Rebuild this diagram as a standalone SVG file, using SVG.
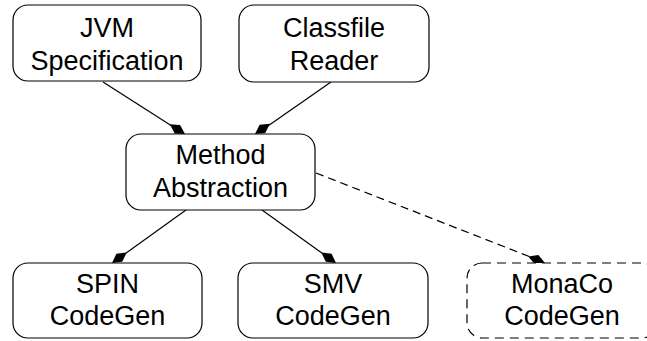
<svg xmlns="http://www.w3.org/2000/svg" width="647" height="341" viewBox="0 0 647 341">
<style>
.box{fill:#fff;stroke:#000;stroke-width:1.2}
.dbox{fill:#fff;stroke:#000;stroke-width:1.2;stroke-dasharray:9 6}
.lbl{font-family:"Liberation Sans",Arial,sans-serif;font-size:27px;fill:#000;text-anchor:middle}
.edge{stroke:#000;stroke-width:1.2;fill:none}
.dash{stroke-dasharray:8 5}
.head{fill:#000;stroke:none}
</style>
<defs>
<path id="kite" d="M-18,0 L-9,-5 L0,0 L-9,5 Z"/>
</defs>
<g id="connectors">
<line class="edge" x1="103" y1="82" x2="175" y2="128"/>
<use href="#kite" class="head" transform="translate(185,134) rotate(32.4)"/>
<line class="edge" x1="331" y1="82" x2="265" y2="128"/>
<use href="#kite" class="head" transform="translate(255,134) rotate(145.6)"/>
<line class="edge" x1="186" y1="210" x2="122" y2="256"/>
<use href="#kite" class="head" transform="translate(112,263) rotate(144.4)"/>
<line class="edge" x1="262" y1="210" x2="326" y2="256"/>
<use href="#kite" class="head" transform="translate(336,263) rotate(35.6)"/>
<line class="edge dash" x1="316" y1="173" x2="533" y2="258"/>
<use href="#kite" class="head" transform="translate(545,263) rotate(21.5)"/>
</g>
<g id="jvm">
<rect class="box" x="13" y="5" width="188" height="76" rx="15"/>
<text class="lbl" x="107" y="37">JVM</text>
<text class="lbl" x="107" y="70">Specification</text>
</g>
<g id="classfile">
<rect class="box" x="239" y="5" width="190" height="77" rx="15"/>
<text class="lbl" x="334" y="37">Classfile</text>
<text class="lbl" x="334" y="70">Reader</text>
</g>
<g id="method">
<rect class="box" x="126" y="134" width="189" height="76" rx="15"/>
<text class="lbl" x="220.5" y="164">Method</text>
<text class="lbl" x="220.5" y="197">Abstraction</text>
</g>
<g id="spin">
<rect class="box" x="13" y="263" width="189" height="75" rx="15"/>
<text class="lbl" x="107.5" y="293">SPIN</text>
<text class="lbl" x="107.5" y="325">CodeGen</text>
</g>
<g id="smv">
<rect class="box" x="238" y="263" width="190" height="75" rx="15"/>
<text class="lbl" x="333" y="293">SMV</text>
<text class="lbl" x="333" y="325">CodeGen</text>
</g>
<g id="monaco">
<rect class="dbox" x="467" y="263" width="190" height="75" rx="15"/>
<text class="lbl" x="562" y="293">MonaCo</text>
<text class="lbl" x="562" y="325">CodeGen</text>
</g>
</svg>
